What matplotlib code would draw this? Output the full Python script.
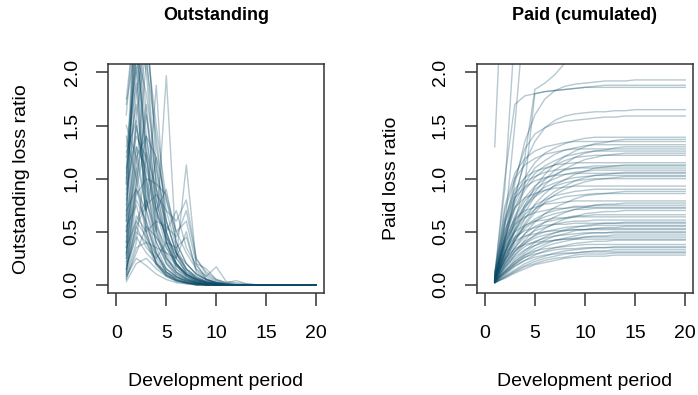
"""
Loss ratio development: outstanding vs cumulated paid, one line per claim cohort.
"""
import numpy as np
import matplotlib
matplotlib.use("Agg")
import matplotlib.pyplot as plt

plt.rcParams["font.family"] = ["Liberation Sans", "DejaVu Sans"]

# ── Data ──────────────────────────────────────────────────────────────────────
periods = np.arange(1, 21)

paid_ratios = [
    [1.30, 3.40, 3.50, 3.55, 3.58, 3.60, 3.60, 3.60, 3.60, 3.60, 3.60, 3.60, 3.60, 3.60, 3.60, 3.60, 3.60, 3.60, 3.60, 3.60],
    [0.10, 0.90, 2.40, 2.70, 2.80, 2.85, 2.88, 2.90, 2.90, 2.90, 2.90, 2.90, 2.90, 2.90, 2.90, 2.90, 2.90, 2.90, 2.90, 2.90],
    [0.06, 0.55, 1.50, 2.60, 2.90, 3.00, 3.05, 3.08, 3.08, 3.08, 3.08, 3.08, 3.08, 3.08, 3.08, 3.08, 3.08, 3.08, 3.08, 3.08],
    [0.05, 0.40, 0.80, 1.20, 1.84, 1.90, 1.98, 2.09, 2.15, 2.20, 2.22, 2.24, 2.25, 2.25, 2.25, 2.25, 2.25, 2.25, 2.25, 2.25],
    [0.05, 0.45, 0.95, 1.35, 1.60, 1.75, 1.83, 1.87, 1.89, 1.90, 1.91, 1.92, 1.92, 1.92, 1.93, 1.93, 1.93, 1.93, 1.93, 1.93],
    [0.04, 0.30, 0.60, 0.95, 1.80, 1.82, 1.83, 1.84, 1.85, 1.86, 1.87, 1.88, 1.88, 1.88, 1.88, 1.88, 1.88, 1.88, 1.88, 1.88],
    [0.08, 1.00, 1.70, 1.78, 1.80, 1.82, 1.83, 1.84, 1.85, 1.86, 1.86, 1.86, 1.86, 1.86, 1.86, 1.86, 1.86, 1.86, 1.86, 1.86],
    [0.04, 0.40, 0.85, 1.15, 1.35, 1.48, 1.55, 1.59, 1.61, 1.62, 1.63, 1.63, 1.64, 1.64, 1.65, 1.65, 1.65, 1.65, 1.65, 1.65],
    [0.05, 0.55, 1.00, 1.28, 1.42, 1.48, 1.52, 1.54, 1.55, 1.56, 1.57, 1.58, 1.58, 1.59, 1.59, 1.59, 1.59, 1.59, 1.59, 1.59],
    [0.06, 0.49, 0.81, 1.01, 1.15, 1.24, 1.29, 1.33, 1.36, 1.38, 1.39, 1.39, 1.39, 1.39, 1.39, 1.39, 1.39, 1.39, 1.39, 1.39],
    [0.04, 0.30, 0.55, 0.75, 0.92, 1.04, 1.14, 1.21, 1.26, 1.30, 1.33, 1.34, 1.36, 1.37, 1.37, 1.37, 1.37, 1.37, 1.37, 1.37],
    [0.10, 0.74, 1.05, 1.19, 1.26, 1.30, 1.32, 1.34, 1.35, 1.35, 1.35, 1.35, 1.35, 1.35, 1.35, 1.35, 1.35, 1.35, 1.35, 1.35],
    [0.05, 0.46, 0.77, 0.96, 1.10, 1.17, 1.23, 1.27, 1.29, 1.31, 1.32, 1.32, 1.32, 1.32, 1.32, 1.32, 1.32, 1.32, 1.32, 1.32],
    [0.03, 0.29, 0.52, 0.72, 0.87, 0.99, 1.08, 1.14, 1.20, 1.24, 1.26, 1.27, 1.29, 1.30, 1.30, 1.30, 1.30, 1.30, 1.30, 1.30],
    [0.08, 0.70, 1.00, 1.13, 1.19, 1.23, 1.25, 1.27, 1.28, 1.28, 1.28, 1.28, 1.28, 1.28, 1.28, 1.28, 1.28, 1.28, 1.28, 1.28],
    [0.07, 0.44, 0.73, 0.92, 1.05, 1.12, 1.17, 1.21, 1.23, 1.25, 1.26, 1.26, 1.26, 1.26, 1.26, 1.26, 1.26, 1.26, 1.26, 1.26],
    [0.05, 0.27, 0.50, 0.68, 0.83, 0.94, 1.03, 1.09, 1.14, 1.18, 1.20, 1.22, 1.23, 1.24, 1.24, 1.24, 1.24, 1.24, 1.24, 1.24],
    [0.04, 0.43, 0.71, 0.89, 1.01, 1.09, 1.13, 1.17, 1.20, 1.21, 1.22, 1.22, 1.22, 1.22, 1.22, 1.22, 1.22, 1.22, 1.22, 1.22],
    [0.09, 0.63, 0.90, 1.01, 1.07, 1.10, 1.13, 1.14, 1.15, 1.15, 1.15, 1.15, 1.15, 1.15, 1.15, 1.15, 1.15, 1.15, 1.15, 1.15],
    [0.03, 0.25, 0.45, 0.62, 0.76, 0.86, 0.94, 0.99, 1.04, 1.07, 1.10, 1.11, 1.12, 1.13, 1.13, 1.13, 1.13, 1.13, 1.13, 1.13],
    [0.06, 0.39, 0.65, 0.82, 0.93, 1.00, 1.04, 1.08, 1.10, 1.11, 1.12, 1.12, 1.12, 1.12, 1.12, 1.12, 1.12, 1.12, 1.12, 1.12],
    [0.12, 0.61, 0.86, 0.97, 1.02, 1.06, 1.08, 1.09, 1.10, 1.10, 1.10, 1.10, 1.10, 1.10, 1.10, 1.10, 1.10, 1.10, 1.10, 1.10],
    [0.05, 0.38, 0.63, 0.79, 0.90, 0.96, 1.00, 1.04, 1.06, 1.07, 1.08, 1.08, 1.08, 1.08, 1.08, 1.08, 1.08, 1.08, 1.08, 1.08],
    [0.04, 0.23, 0.42, 0.58, 0.71, 0.81, 0.88, 0.93, 0.98, 1.01, 1.03, 1.04, 1.05, 1.06, 1.06, 1.06, 1.06, 1.06, 1.06, 1.06],
    [0.07, 0.58, 0.82, 0.92, 0.98, 1.01, 1.03, 1.04, 1.05, 1.05, 1.05, 1.05, 1.05, 1.05, 1.05, 1.05, 1.05, 1.05, 1.05, 1.05],
    [0.03, 0.36, 0.60, 0.75, 0.85, 0.92, 0.96, 0.99, 1.01, 1.02, 1.03, 1.03, 1.03, 1.03, 1.03, 1.03, 1.03, 1.03, 1.03, 1.03],
    [0.06, 0.22, 0.41, 0.56, 0.68, 0.78, 0.85, 0.90, 0.94, 0.97, 0.99, 1.00, 1.01, 1.02, 1.02, 1.02, 1.02, 1.02, 1.02, 1.02],
    [0.05, 0.35, 0.58, 0.73, 0.83, 0.89, 0.93, 0.96, 0.98, 0.99, 1.00, 1.00, 1.00, 1.00, 1.00, 1.00, 1.00, 1.00, 1.00, 1.00],
    [0.08, 0.51, 0.73, 0.82, 0.86, 0.89, 0.91, 0.92, 0.93, 0.93, 0.93, 0.93, 0.93, 0.93, 0.93, 0.93, 0.93, 0.93, 0.93, 0.93],
    [0.04, 0.32, 0.52, 0.66, 0.75, 0.80, 0.84, 0.86, 0.88, 0.89, 0.90, 0.90, 0.90, 0.90, 0.90, 0.90, 0.90, 0.90, 0.90, 0.90],
    [0.03, 0.19, 0.35, 0.48, 0.59, 0.67, 0.73, 0.77, 0.81, 0.84, 0.85, 0.86, 0.87, 0.88, 0.88, 0.88, 0.88, 0.88, 0.88, 0.88],
    [0.06, 0.30, 0.50, 0.63, 0.71, 0.77, 0.80, 0.83, 0.84, 0.85, 0.86, 0.86, 0.86, 0.86, 0.86, 0.86, 0.86, 0.86, 0.86, 0.86],
    [0.07, 0.43, 0.62, 0.70, 0.73, 0.76, 0.77, 0.78, 0.79, 0.79, 0.79, 0.79, 0.79, 0.79, 0.79, 0.79, 0.79, 0.79, 0.79, 0.79],
    [0.03, 0.17, 0.31, 0.42, 0.52, 0.59, 0.64, 0.68, 0.71, 0.73, 0.75, 0.76, 0.76, 0.77, 0.77, 0.77, 0.77, 0.77, 0.77, 0.77],
    [0.05, 0.26, 0.44, 0.55, 0.62, 0.67, 0.70, 0.72, 0.74, 0.74, 0.75, 0.75, 0.75, 0.75, 0.75, 0.75, 0.75, 0.75, 0.75, 0.75],
    [0.09, 0.40, 0.57, 0.64, 0.68, 0.70, 0.72, 0.72, 0.73, 0.73, 0.73, 0.73, 0.73, 0.73, 0.73, 0.73, 0.73, 0.73, 0.73, 0.73],
    [0.04, 0.25, 0.42, 0.53, 0.60, 0.64, 0.67, 0.69, 0.71, 0.71, 0.72, 0.72, 0.72, 0.72, 0.72, 0.72, 0.72, 0.72, 0.72, 0.72],
    [0.02, 0.15, 0.28, 0.39, 0.47, 0.53, 0.58, 0.62, 0.64, 0.67, 0.68, 0.69, 0.69, 0.70, 0.70, 0.70, 0.70, 0.70, 0.70, 0.70],
    [0.05, 0.23, 0.38, 0.48, 0.55, 0.59, 0.61, 0.63, 0.65, 0.65, 0.66, 0.66, 0.66, 0.66, 0.66, 0.66, 0.66, 0.66, 0.66, 0.66],
    [0.06, 0.35, 0.50, 0.56, 0.60, 0.61, 0.63, 0.63, 0.64, 0.64, 0.64, 0.64, 0.64, 0.64, 0.64, 0.64, 0.64, 0.64, 0.64, 0.64],
    [0.04, 0.21, 0.35, 0.45, 0.51, 0.54, 0.57, 0.59, 0.60, 0.60, 0.61, 0.61, 0.61, 0.61, 0.61, 0.61, 0.61, 0.61, 0.61, 0.61],
    [0.03, 0.13, 0.24, 0.32, 0.40, 0.45, 0.49, 0.52, 0.54, 0.56, 0.57, 0.58, 0.58, 0.59, 0.59, 0.59, 0.59, 0.59, 0.59, 0.59],
    [0.05, 0.32, 0.45, 0.51, 0.54, 0.56, 0.57, 0.57, 0.58, 0.58, 0.58, 0.58, 0.58, 0.58, 0.58, 0.58, 0.58, 0.58, 0.58, 0.58],
    [0.03, 0.20, 0.32, 0.41, 0.46, 0.50, 0.52, 0.54, 0.55, 0.55, 0.56, 0.56, 0.56, 0.56, 0.56, 0.56, 0.56, 0.56, 0.56, 0.56],
    [0.04, 0.12, 0.22, 0.30, 0.37, 0.42, 0.46, 0.48, 0.51, 0.52, 0.53, 0.54, 0.54, 0.55, 0.55, 0.55, 0.55, 0.55, 0.55, 0.55],
    [0.02, 0.19, 0.31, 0.39, 0.44, 0.47, 0.49, 0.51, 0.52, 0.52, 0.53, 0.53, 0.53, 0.53, 0.53, 0.53, 0.53, 0.53, 0.53, 0.53],
    [0.06, 0.29, 0.41, 0.46, 0.48, 0.50, 0.51, 0.51, 0.52, 0.52, 0.52, 0.52, 0.52, 0.52, 0.52, 0.52, 0.52, 0.52, 0.52, 0.52],
    [0.03, 0.11, 0.20, 0.28, 0.34, 0.38, 0.42, 0.44, 0.46, 0.48, 0.49, 0.49, 0.50, 0.50, 0.50, 0.50, 0.50, 0.50, 0.50, 0.50],
    [0.04, 0.17, 0.28, 0.36, 0.41, 0.44, 0.46, 0.47, 0.48, 0.49, 0.49, 0.49, 0.49, 0.49, 0.49, 0.49, 0.49, 0.49, 0.49, 0.49],
    [0.02, 0.10, 0.19, 0.26, 0.31, 0.36, 0.39, 0.41, 0.43, 0.45, 0.46, 0.46, 0.47, 0.47, 0.47, 0.47, 0.47, 0.47, 0.47, 0.47],
    [0.03, 0.16, 0.26, 0.33, 0.37, 0.40, 0.42, 0.43, 0.44, 0.45, 0.45, 0.45, 0.45, 0.45, 0.45, 0.45, 0.45, 0.45, 0.45, 0.45],
    [0.04, 0.24, 0.34, 0.38, 0.40, 0.41, 0.42, 0.43, 0.43, 0.43, 0.43, 0.43, 0.43, 0.43, 0.43, 0.43, 0.43, 0.43, 0.43, 0.43],
    [0.02, 0.09, 0.17, 0.23, 0.28, 0.32, 0.35, 0.37, 0.39, 0.40, 0.41, 0.41, 0.42, 0.42, 0.42, 0.42, 0.42, 0.42, 0.42, 0.42],
    [0.03, 0.13, 0.22, 0.28, 0.32, 0.34, 0.35, 0.36, 0.37, 0.38, 0.38, 0.38, 0.38, 0.38, 0.38, 0.38, 0.38, 0.38, 0.38, 0.38],
    [0.02, 0.08, 0.14, 0.20, 0.24, 0.27, 0.30, 0.32, 0.33, 0.34, 0.35, 0.35, 0.36, 0.36, 0.36, 0.36, 0.36, 0.36, 0.36, 0.36],
    [0.02, 0.12, 0.20, 0.26, 0.29, 0.31, 0.33, 0.34, 0.34, 0.35, 0.35, 0.35, 0.35, 0.35, 0.35, 0.35, 0.35, 0.35, 0.35, 0.35],
    [0.02, 0.07, 0.13, 0.18, 0.22, 0.25, 0.27, 0.29, 0.30, 0.31, 0.32, 0.32, 0.33, 0.33, 0.33, 0.33, 0.33, 0.33, 0.33, 0.33],
    [0.03, 0.11, 0.18, 0.23, 0.26, 0.28, 0.29, 0.30, 0.30, 0.31, 0.31, 0.31, 0.31, 0.31, 0.31, 0.31, 0.31, 0.31, 0.31, 0.31],
    [0.02, 0.07, 0.12, 0.17, 0.20, 0.23, 0.25, 0.26, 0.28, 0.29, 0.29, 0.29, 0.30, 0.30, 0.30, 0.30, 0.30, 0.30, 0.30, 0.30],
    [0.02, 0.06, 0.11, 0.15, 0.19, 0.21, 0.23, 0.25, 0.26, 0.27, 0.27, 0.27, 0.28, 0.28, 0.28, 0.28, 0.28, 0.28, 0.28, 0.28],
]

outstanding_ratios = [
    [1.75, 2.60, 1.40, 0.70, 0.35, 0.18, 0.09, 0.04, 0.02, 0.01, 0, 0, 0, 0, 0, 0, 0, 0, 0, 0],
    [0.95, 2.30, 0.80, 0.40, 0.22, 0.10, 0.05, 0.02, 0.01, 0, 0, 0, 0, 0, 0, 0, 0, 0, 0, 0],
    [0.40, 1.60, 2.20, 0.90, 0.45, 0.20, 0.10, 0.05, 0.02, 0, 0, 0, 0, 0, 0, 0, 0, 0, 0, 0],
    [1.20, 1.90, 0.60, 0.25, 0.12, 0.06, 0.03, 0.01, 0, 0, 0, 0, 0, 0, 0, 0, 0, 0, 0, 0],
    [0.60, 2.50, 1.00, 0.35, 0.15, 0.07, 0.03, 0.01, 0, 0, 0, 0, 0, 0, 0, 0, 0, 0, 0, 0],
    [0.10, 0.80, 0.60, 0.30, 0.12, 0.05, 0.02, 0.01, 0, 0, 0, 0, 0, 0, 0, 0, 0, 0, 0, 0],
    [0.30, 1.10, 0.50, 0.20, 0.09, 0.04, 0.02, 0, 0, 0, 0, 0, 0, 0, 0, 0, 0, 0, 0, 0],
    [1.40, 1.00, 0.45, 0.20, 0.10, 0.05, 0.02, 0.01, 0, 0, 0, 0, 0, 0, 0, 0, 0, 0, 0, 0],
    [0.05, 0.35, 0.40, 0.22, 0.10, 0.04, 0.02, 0, 0, 0, 0, 0, 0, 0, 0, 0, 0, 0, 0, 0],
    [0.80, 1.50, 0.90, 0.50, 0.25, 0.12, 0.06, 0.03, 0.01, 0, 0, 0, 0, 0, 0, 0, 0, 0, 0, 0],
    [0.30, 0.90, 0.70, 1.88, 0.40, 0.15, 0.06, 0.02, 0, 0, 0, 0, 0, 0, 0, 0, 0, 0, 0, 0],
    [0.15, 0.60, 0.80, 0.50, 1.97, 0.30, 0.10, 0.04, 0.01, 0, 0, 0, 0, 0, 0, 0, 0, 0, 0, 0],
    [0.10, 0.50, 0.40, 0.35, 0.30, 0.25, 1.13, 0.20, 0.05, 0.01, 0, 0, 0, 0, 0, 0, 0, 0, 0, 0],
    [0.50, 2.80, 1.60, 0.80, 0.40, 0.20, 0.10, 0.05, 0.02, 0.01, 0, 0, 0, 0, 0, 0, 0, 0, 0, 0],
    [1.00, 2.20, 1.80, 1.10, 0.60, 0.30, 0.15, 0.07, 0.03, 0.01, 0, 0, 0, 0, 0, 0, 0, 0, 0, 0],
    [0.25, 1.30, 1.10, 0.70, 0.45, 0.30, 0.20, 0.10, 0.05, 0.02, 0, 0, 0, 0, 0, 0, 0, 0, 0, 0],
    [0.70, 0.90, 0.55, 0.30, 0.15, 0.08, 0.04, 0.02, 0, 0, 0, 0, 0, 0, 0, 0, 0, 0, 0, 0],
    [0.08, 0.40, 1.25, 0.90, 0.60, 0.30, 0.15, 0.08, 0.04, 0.02, 0.01, 0, 0, 0, 0, 0, 0, 0, 0, 0],
    [0.35, 2.10, 0.70, 0.30, 0.12, 0.05, 0.02, 0, 0, 0, 0, 0, 0, 0, 0, 0, 0, 0, 0, 0],
    [1.60, 2.70, 2.00, 0.90, 0.40, 0.18, 0.08, 0.03, 0.01, 0, 0, 0, 0, 0, 0, 0, 0, 0, 0, 0],
    [0.15, 0.55, 0.75, 0.85, 0.70, 0.60, 0.80, 0.25, 0.10, 0.04, 0.01, 0, 0, 0, 0, 0, 0, 0, 0, 0],
    [0.45, 1.20, 1.40, 1.20, 0.80, 0.50, 0.30, 0.15, 0.08, 0.17, 0.03, 0.02, 0.01, 0, 0, 0, 0, 0, 0, 0],
    [0.22, 0.65, 0.50, 0.60, 0.55, 0.45, 0.70, 0.24, 0.12, 0.05, 0.02, 0.04, 0.01, 0, 0, 0, 0, 0, 0, 0],
    [1.10, 1.70, 0.95, 0.55, 0.35, 0.20, 0.10, 0.05, 0.02, 0.01, 0, 0, 0, 0, 0, 0, 0, 0, 0, 0],
    [0.65, 2.90, 2.40, 1.30, 0.70, 0.35, 0.15, 0.07, 0.03, 0.01, 0, 0, 0, 0, 0, 0, 0, 0, 0, 0],
    [0.03, 0.20, 0.25, 0.15, 0.08, 0.04, 0.02, 0.01, 0, 0, 0, 0, 0, 0, 0, 0, 0, 0, 0, 0],
    [0.90, 1.40, 1.20, 0.70, 0.90, 0.40, 0.20, 0.10, 0.05, 0.02, 0, 0, 0, 0, 0, 0, 0, 0, 0, 0],
    [0.12, 1.00, 1.60, 1.00, 0.50, 0.25, 0.12, 0.06, 0.03, 0.01, 0, 0, 0, 0, 0, 0, 0, 0, 0, 0],
    [1.30, 2.05, 0.50, 0.20, 0.08, 0.03, 0.01, 0, 0, 0, 0, 0, 0, 0, 0, 0, 0, 0, 0, 0],
    [0.55, 0.75, 0.40, 0.18, 0.09, 0.04, 0.02, 0, 0, 0, 0, 0, 0, 0, 0, 0, 0, 0, 0, 0],
    [0.18, 0.45, 0.30, 0.20, 0.12, 0.07, 0.04, 0.02, 0.01, 0, 0, 0, 0, 0, 0, 0, 0, 0, 0, 0],
    [0.75, 1.80, 2.30, 1.50, 0.80, 0.40, 0.20, 0.10, 0.05, 0.02, 0.01, 0, 0, 0, 0, 0, 0, 0, 0, 0],
    [0.28, 1.50, 1.00, 0.65, 0.50, 0.70, 0.35, 0.18, 0.08, 0.03, 0.01, 0, 0, 0, 0, 0, 0, 0, 0, 0],
    [1.50, 1.20, 0.70, 0.40, 0.20, 0.10, 0.05, 0.02, 0, 0, 0, 0, 0, 0, 0, 0, 0, 0, 0, 0],
    [0.06, 0.30, 0.55, 0.45, 0.30, 0.18, 0.10, 0.05, 0.02, 0.01, 0, 0, 0, 0, 0, 0, 0, 0, 0, 0],
    [0.85, 2.20, 1.30, 0.60, 0.28, 0.12, 0.05, 0.02, 0, 0, 0, 0, 0, 0, 0, 0, 0, 0, 0, 0],
    [0.40, 0.95, 1.70, 0.70, 0.45, 0.25, 0.50, 0.12, 0.05, 0.02, 0, 0, 0, 0, 0, 0, 0, 0, 0, 0],
    [0.20, 0.85, 1.00, 0.95, 0.85, 0.50, 0.60, 0.20, 0.15, 0.05, 0.02, 0.01, 0, 0, 0, 0, 0, 0, 0, 0],
    [1.05, 2.50, 1.20, 0.55, 0.25, 0.12, 0.06, 0.03, 0.01, 0, 0, 0, 0, 0, 0, 0, 0, 0, 0, 0],
    [0.35, 0.60, 0.45, 0.28, 0.15, 0.08, 0.04, 0.02, 0, 0, 0, 0, 0, 0, 0, 0, 0, 0, 0, 0],
    [0.50, 1.10, 2.10, 1.40, 0.60, 0.30, 0.14, 0.06, 0.02, 0.01, 0, 0, 0, 0, 0, 0, 0, 0, 0, 0],
    [0.08, 0.25, 0.18, 0.10, 0.05, 0.02, 0.01, 0, 0, 0, 0, 0, 0, 0, 0, 0, 0, 0, 0, 0],
    [1.70, 2.30, 1.20, 0.50, 0.20, 0.08, 0.03, 0.01, 0, 0, 0, 0, 0, 0, 0, 0, 0, 0, 0, 0],
    [0.60, 1.30, 0.70, 1.20, 0.50, 0.25, 0.12, 0.06, 0.03, 0.01, 0, 0, 0, 0, 0, 0, 0, 0, 0, 0],
    [0.25, 0.90, 1.40, 0.80, 0.40, 0.35, 0.45, 0.14, 0.06, 0.02, 0.01, 0, 0, 0, 0, 0, 0, 0, 0, 0],
    [0.95, 3.00, 2.60, 1.10, 0.50, 0.20, 0.08, 0.03, 0.01, 0, 0, 0, 0, 0, 0, 0, 0, 0, 0, 0],
    [0.14, 0.55, 0.35, 0.25, 0.40, 0.20, 0.10, 0.05, 0.02, 0, 0, 0, 0, 0, 0, 0, 0, 0, 0, 0],
    [1.25, 1.55, 0.80, 0.45, 0.25, 0.15, 0.08, 0.04, 0.02, 0.01, 0, 0, 0, 0, 0, 0, 0, 0, 0, 0],
]

x_ticks = [0, 5, 10, 15, 20]
y_ticks = [0.0, 0.5, 1.0, 1.5, 2.0]
y_tick_labels = ["0.0", "0.5", "1.0", "1.5", "2.0"]

LINE_COL = "#0d4b66"
AXIS_COL = "#333333"

# ── Figure ────────────────────────────────────────────────────────────────────
W, H = 698, 395
fig = plt.figure(figsize=(W / 100, H / 100), dpi=100)


def px_axes(x0, y0, x1, y1):
    """Axes from pixel box (left, top, right, bottom)."""
    return fig.add_axes([x0 / W, 1 - y1 / H, (x1 - x0) / W, (y1 - y0) / H])


panels = [
    (px_axes(108.3, 64, 324.3, 293.3), outstanding_ratios, "Outstanding",
     "Outstanding loss ratio", 216, 22),
    (px_axes(476.7, 64, 693.3, 293.3), paid_ratios, "Paid (cumulated)",
     "Paid loss ratio", 585, 392),
]

for ax, rows, title, ylab, cx, ylab_x in panels:
    for row in rows:
        ax.plot(periods, row, color=LINE_COL, alpha=0.3, lw=1.0)
    ax.set_xlim(-0.8, 20.8)
    ax.set_ylim(-0.08, 2.08)
    ax.set_xticks(x_ticks)
    ax.set_xticklabels([str(t) for t in x_ticks])
    ax.set_yticks(y_ticks)
    ax.set_yticklabels(y_tick_labels, rotation=90, va="center")
    ax.tick_params(direction="out", length=9, width=1.1, color=AXIS_COL,
                   labelsize=14)
    ax.tick_params(axis="x", pad=14)
    ax.tick_params(axis="y", pad=11)
    for s in ax.spines.values():
        s.set_color(AXIS_COL)
        s.set_linewidth(1.1)
    fig.text(cx / W, 1 - 15 / H, title, ha="center", va="center",
             fontsize=13, fontweight="bold")
    fig.text(cx / W, 1 - 381.7 / H, "Development period", ha="center",
             va="center", fontsize=14)
    fig.text(ylab_x / W, 1 - 178.7 / H, ylab, ha="center", va="center",
             rotation=90, fontsize=14)

fig.savefig("out.png", dpi=100)
